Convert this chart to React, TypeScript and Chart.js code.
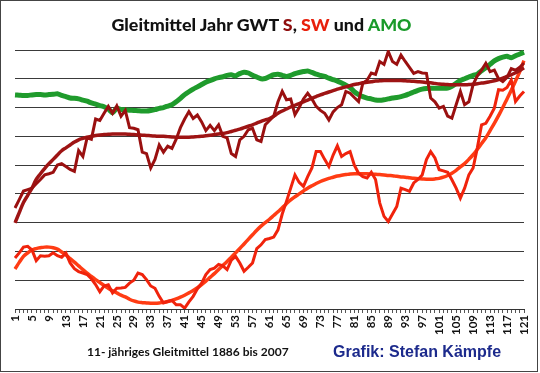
import React, { useEffect, useRef } from "react";
import { Chart, registerables } from "chart.js";

Chart.register(...registerables);

const categories: string[] = Array.from({ length: 121 }, (_, i) => String(i + 1));

const amo: number[] = [
  7.44, 7.43, 7.42, 7.42, 7.44, 7.45, 7.45, 7.44, 7.45, 7.46,
  7.48, 7.42, 7.38, 7.33, 7.32, 7.30, 7.26, 7.22, 7.16, 7.12,
  7.07, 7.03, 6.95, 6.82, 6.98, 6.93, 6.92, 6.91, 6.90, 6.89,
  6.88, 6.88, 6.90, 6.93, 6.97, 7.00, 7.05, 7.10, 7.20, 7.32,
  7.45, 7.55, 7.64, 7.72, 7.80, 7.88, 7.94, 8.00, 8.04, 8.07,
  8.12, 8.14, 8.10, 8.18, 8.23, 8.20, 8.12, 8.06, 8.00, 8.01,
  8.08, 8.14, 8.16, 8.12, 8.08, 8.12, 8.18, 8.22, 8.25, 8.27,
  8.22, 8.16, 8.12, 8.08, 8.02, 7.97, 7.92, 7.85, 7.78, 7.70,
  7.55, 7.45, 7.38, 7.33, 7.30, 7.26, 7.25, 7.27, 7.30, 7.33,
  7.35, 7.38, 7.42, 7.48, 7.54, 7.60, 7.64, 7.66, 7.67, 7.67,
  7.67, 7.67, 7.68, 7.74, 7.84, 7.94, 8.00, 8.06, 8.12, 8.16,
  8.28, 8.38, 8.50, 8.62, 8.70, 8.75, 8.78, 8.73, 8.80, 8.86,
  8.92,
];

const gwtS: number[] = [
  3.51, 3.80, 4.10, 4.15, 4.20, 4.35, 4.50, 4.66, 4.70, 4.75,
  5.00, 5.05, 4.95, 4.85, 4.78, 5.50, 5.30, 5.95, 5.90, 6.60,
  6.55, 6.80, 7.04, 6.80, 7.06, 6.70, 6.90, 6.30, 6.28, 6.23,
  5.45, 5.40, 4.90, 5.20, 5.70, 5.45, 5.66, 5.58, 5.90, 6.30,
  6.60, 6.86, 6.62, 6.74, 6.50, 6.20, 6.38, 6.20, 6.40, 6.00,
  5.95, 5.40, 5.30, 5.88, 6.00, 6.23, 6.28, 5.88, 5.82, 6.40,
  6.55, 6.70, 7.20, 7.56, 7.27, 7.30, 6.75, 7.00, 7.30, 7.50,
  7.30, 7.04, 6.90, 6.80, 6.57, 6.85, 7.00, 7.10, 7.56, 7.50,
  7.35, 7.21, 7.85, 7.95, 8.20, 8.15, 8.60, 8.50, 8.95, 8.60,
  8.50, 8.82, 8.60, 8.40, 8.19, 8.25, 8.20, 8.19, 7.33, 7.20,
  6.98, 7.04, 6.70, 6.63, 7.10, 7.56, 7.10, 7.20, 7.80, 8.10,
  8.30, 8.54, 8.25, 8.30, 8.00, 7.90, 8.05, 8.35, 8.30, 8.40,
  8.55,
];

const gwtSTrend: number[] = [
  2.99, 3.35, 3.70, 3.95, 4.20, 4.50, 4.70, 4.88, 5.05, 5.20,
  5.35, 5.50, 5.60, 5.70, 5.80, 5.88, 5.93, 5.97, 6.00, 6.03,
  6.05, 6.06, 6.07, 6.08, 6.08, 6.08, 6.08, 6.07, 6.06, 6.05,
  6.04, 6.03, 6.02, 6.01, 6.00, 6.00, 5.99, 5.98, 5.97, 5.97,
  5.97, 5.97, 5.98, 5.99, 6.00, 6.02, 6.04, 6.06, 6.08, 6.10,
  6.13, 6.17, 6.21, 6.25, 6.30, 6.35, 6.40, 6.46, 6.52, 6.57,
  6.62, 6.70, 6.80, 6.88, 6.95, 7.02, 7.08, 7.14, 7.20, 7.26,
  7.32, 7.38, 7.44, 7.49, 7.54, 7.59, 7.64, 7.68, 7.72, 7.76,
  7.80, 7.83, 7.86, 7.88, 7.90, 7.92, 7.93, 7.94, 7.94, 7.94,
  7.94, 7.94, 7.93, 7.92, 7.91, 7.90, 7.89, 7.87, 7.86, 7.84,
  7.82, 7.81, 7.80, 7.79, 7.79, 7.79, 7.79, 7.80, 7.81, 7.83,
  7.85, 7.87, 7.90, 7.93, 7.97, 8.02, 8.08, 8.14, 8.21, 8.29,
  8.38,
];

const gwtSW: number[] = [
  1.77, 1.95, 2.15, 2.18, 2.05, 1.68, 1.85, 1.83, 1.85, 1.95,
  1.85, 1.80, 1.94, 1.60, 1.40, 1.30, 1.25, 1.20, 1.05, 0.85,
  0.60, 0.80, 0.84, 0.56, 0.72, 0.73, 0.75, 0.90, 1.00, 1.25,
  1.20, 1.02, 0.80, 0.72, 0.44, 0.21, 0.26, 0.30, 0.15, 0.15,
  0.03, 0.25, 0.44, 0.70, 0.90, 1.20, 1.37, 1.42, 1.55, 1.50,
  1.37, 1.70, 1.83, 1.60, 1.31, 1.45, 1.60, 2.10, 2.23, 2.41,
  2.45, 2.50, 2.75, 3.30, 3.74, 4.20, 4.66, 4.40, 4.26, 4.60,
  4.90, 5.47, 5.47, 5.20, 4.95, 5.35, 5.67, 5.30, 5.40, 5.47,
  5.00, 4.72, 4.60, 4.55, 4.75, 4.50, 3.68, 3.22, 3.04, 3.30,
  3.56, 4.20, 4.15, 4.09, 4.38, 4.50, 4.66, 5.19, 5.47, 5.25,
  4.84, 4.80, 4.75, 4.49, 4.20, 3.85, 4.20, 4.66, 4.90, 5.60,
  6.40, 6.45, 6.70, 6.98, 7.62, 7.60, 7.70, 7.96, 7.21, 7.40,
  7.56,
];

const gwtSWTrend: number[] = [
  1.39, 1.62, 1.83, 1.95, 2.05, 2.10, 2.13, 2.15, 2.15, 2.13,
  2.08, 1.98, 1.88, 1.75, 1.63, 1.50, 1.37, 1.25, 1.13, 1.02,
  0.92, 0.82, 0.72, 0.63, 0.56, 0.48, 0.42, 0.34, 0.28, 0.24,
  0.22, 0.21, 0.20, 0.20, 0.21, 0.23, 0.26, 0.30, 0.35, 0.41,
  0.48, 0.56, 0.64, 0.74, 0.85, 0.97, 1.10, 1.23, 1.37, 1.51,
  1.65, 1.80, 1.95, 2.10, 2.26, 2.42, 2.58, 2.74, 2.88, 3.00,
  3.12, 3.25, 3.38, 3.52, 3.66, 3.79, 3.90, 4.00, 4.10, 4.20,
  4.28, 4.36, 4.43, 4.49, 4.54, 4.58, 4.62, 4.65, 4.67, 4.69,
  4.70, 4.70, 4.70, 4.70, 4.69, 4.68, 4.67, 4.66, 4.64, 4.63,
  4.61, 4.59, 4.58, 4.56, 4.54, 4.53, 4.52, 4.51, 4.51, 4.52,
  4.54, 4.58, 4.64, 4.72, 4.82, 4.94, 5.05, 5.20, 5.36, 5.55,
  5.75, 5.95, 6.20, 6.45, 6.72, 7.00, 7.30, 7.60, 7.92, 8.25,
  8.63,
];

const LABEL_STEP = 4;

export default function App() {
  const canvasRef = useRef<HTMLCanvasElement | null>(null);

  useEffect(() => {
    document.body.style.margin = "0";
    const canvas = canvasRef.current;
    if (!canvas) return;
    const chart = new Chart(canvas, {
      type: "line",
      data: {
        labels: categories,
        datasets: [
          { label: "S", data: gwtS, borderColor: "#9a1010", borderWidth: 3, tension: 0, pointRadius: 0 },
          { label: "S Trend", data: gwtSTrend, borderColor: "#9e1414", borderWidth: 3.5, tension: 0.4, pointRadius: 0 },
          { label: "SW", data: gwtSW, borderColor: "#f0230c", borderWidth: 3, tension: 0, pointRadius: 0 },
          { label: "SW Trend", data: gwtSWTrend, borderColor: "#ff3c14", borderWidth: 3.5, tension: 0.4, pointRadius: 0 },
          { label: "AMO", data: amo, borderColor: "#1f9b2c", borderWidth: 5, tension: 0.2, pointRadius: 0 },
        ],
      },
      options: {
        animation: false,
        responsive: false,
        maintainAspectRatio: false,
        layout: { padding: { left: 15, right: 16, top: 50, bottom: 34 } },
        plugins: { legend: { display: false }, title: { display: false }, tooltip: { enabled: false } },
        scales: {
          x: {
            type: "category",
            offset: false,
            afterFit: (scale: any) => { scale.height = 30; },
            grid: { drawOnChartArea: false, tickLength: 4, color: "#555", lineWidth: 1 },
            border: { display: true, color: "#333" },
            ticks: {
              autoSkip: false,
              maxRotation: 90,
              minRotation: 90,
              padding: 2,
              color: "#111",
              font: { family: "Lato", weight: "bold", size: 11.5 },
              callback: (_v: any, index: number) => (index % LABEL_STEP === 0 ? categories[index] : ""),
            },
          },
          y: {
            min: 0,
            max: 9,
            afterFit: (scale: any) => { scale.width = 0; },
            ticks: { display: false, stepSize: 1 },
            grid: { color: "#3a3a3a", lineWidth: 1, drawTicks: false },
            border: { display: false },
          },
        },
      },
    });
    return () => chart.destroy();
  }, []);

  return (
    <div style={{ position: "relative", width: 540, height: 373, background: "#fff", overflow: "hidden" }}>
      <canvas ref={canvasRef} width={540} height={373} style={{ position: "absolute", left: 0, top: 0, width: 540, height: 373 }} />
      <div style={{ position: "absolute", left: 0, top: 0, width: 538, height: 372, border: "1px solid #444", boxSizing: "border-box", pointerEvents: "none" }} />
      <div style={{ position: "absolute", left: 0, top: 12, width: 523, textAlign: "center", fontFamily: "Lato", fontWeight: 900, fontSize: 17.8, lineHeight: "24px", color: "#111" }}>
        Gleitmittel Jahr GWT <span style={{ color: "#8e0d0d" }}>S</span>, <span style={{ color: "#e8200c" }}>SW</span> und <span style={{ color: "#1a9a2a" }}>AMO</span>
      </div>
      <div style={{ position: "absolute", left: 87, top: 344, fontFamily: "Lato", fontWeight: "bold", fontSize: 12, lineHeight: "16px", color: "#111", whiteSpace: "nowrap" }}>
        11- jähriges Gleitmittel 1886 bis 2007
      </div>
      <div style={{ position: "absolute", left: 333, top: 342, fontFamily: "Liberation Sans", fontWeight: "bold", fontSize: 16, lineHeight: "19px", color: "#1c2a8c", whiteSpace: "nowrap" }}>
        Grafik: Stefan Kämpfe
      </div>
    </div>
  );
}
